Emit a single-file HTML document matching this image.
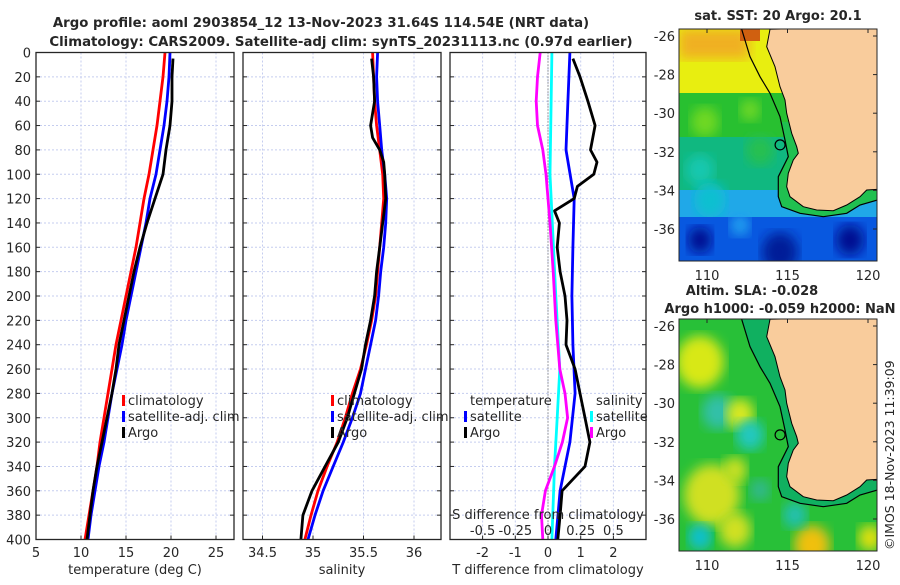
<!DOCTYPE html>
<html><head><meta charset="utf-8"><style>
body{margin:0;background:#fff}
svg text{font-family:"DejaVu Sans","Liberation Sans",sans-serif;fill:#262626}
</style></head><body>
<svg id="s" width="900" height="580" xmlns="http://www.w3.org/2000/svg">
<rect width="900" height="580" fill="#fff"/>
<defs>
<clipPath id="c1"><rect x="679" y="29" width="198" height="232"/></clipPath>
<clipPath id="c1b"><rect x="679" y="122" width="198" height="139"/></clipPath>
<clipPath id="c2"><rect x="679" y="319" width="198" height="232"/></clipPath>
<clipPath id="cp1"><rect x="36" y="52" width="198" height="488"/></clipPath>
<clipPath id="cp2"><rect x="243" y="52" width="198" height="488"/></clipPath>
<clipPath id="cp3"><rect x="450" y="52" width="196" height="488"/></clipPath>
<filter id="bl"><feGaussianBlur stdDeviation="6"/></filter>
</defs>
<text x="321" y="27" text-anchor="middle" font-size="13.3" font-weight="bold">Argo profile: aoml 2903854_12 13-Nov-2023 31.64S 114.54E (NRT data)</text>
<text x="341" y="46" text-anchor="middle" font-size="13.3" font-weight="bold">Climatology: CARS2009. Satellite-adj clim: synTS_20231113.nc (0.97d earlier)</text>
<g id="grid"></g>
<g id="marks"></g>
<g id="axes"></g>
<g id="maps"></g>
<text transform="translate(894,550) rotate(-90)" font-size="12.5">©IMOS 18-Nov-2023 11:39:09</text>
</svg>
<script>
// ---- data ----
const depthStd=[0,20,40,60,80,100,120,140,160,180,200,220,240,260,280,300,320,340,360,380,400];
const tempClim=[19.33,19.11,18.78,18.44,18.0,17.56,17.0,16.56,16.11,15.56,15.0,14.44,13.89,13.44,13.0,12.56,12.11,11.78,11.33,10.89,10.44];
const tempSat=[19.89,19.78,19.56,19.22,18.78,18.33,17.67,17.22,16.67,16.11,15.56,15.0,14.56,14.0,13.44,13.0,12.56,12.0,11.56,11.11,10.78];
const depthArgo=[5,20,40,60,80,100,120,140,160,180,200,220,240,260,280,300,320,340,360,380,400];
const tempArgo=[20.22,20.11,20.11,19.89,19.44,19.11,18.22,17.33,16.56,15.89,15.33,14.78,14.22,13.89,13.44,12.89,12.33,11.78,11.33,11.0,10.67];
const salClim=[35.59,35.60,35.61,35.63,35.66,35.69,35.70,35.68,35.66,35.64,35.62,35.58,35.53,35.47,35.39,35.32,35.24,35.14,35.05,34.98,34.92];
const salSat=[35.64,35.63,35.64,35.66,35.68,35.71,35.73,35.72,35.70,35.67,35.65,35.62,35.57,35.52,35.47,35.39,35.30,35.20,35.10,35.02,34.95];
const depthSalArgo=[5,20,40,60,70,80,90,100,120,140,160,180,200,220,240,260,280,300,320,340,360,380,400];
const salArgo=[35.58,35.60,35.61,35.57,35.59,35.66,35.70,35.71,35.72,35.69,35.66,35.63,35.61,35.57,35.52,35.48,35.41,35.34,35.25,35.12,34.99,34.90,34.88];
const depthTdSat=[0,40,80,120,160,200,240,280,320,360,400];
const tdSat=[0.67,0.61,0.55,0.80,0.76,0.73,0.76,0.83,0.67,0.37,0.24];
const depthTdArgo=[5,20,40,60,80,90,100,110,120,130,140,160,180,200,220,240,260,280,300,320,340,360,380,400];
const tdArgo=[0.76,0.98,1.22,1.44,1.3,1.5,1.4,0.9,0.8,0.2,0.35,0.28,0.37,0.52,0.58,0.55,0.83,0.98,1.13,1.28,1.13,0.43,0.37,0.3];
const depthSdSat=[0,100,200,260,300,340,400];
const sdSat=[0.03,0.015,0.06,0.09,0.07,0.05,0.03];
const depthSdArgo=[0,20,40,60,80,100,140,180,220,260,280,300,320,340,360,380,400];
const sdArgo=[-0.06,-0.08,-0.09,-0.08,-0.04,-0.015,0.015,0.04,0.06,0.09,0.13,0.15,0.11,0.05,-0.02,-0.05,-0.04];
const depthTicks=[0,20,40,60,80,100,120,140,160,180,200,220,240,260,280,300,320,340,360,380,400];
const tTicks=[5,10,15,20,25];
const sTicks=[34.5,35,35.5,36];
const tdTicks=[-2,-1,0,1,2];
const sdTicks=[-0.5,-0.25,0,0.25,0.5];
const sdTickLabels=["-0.5","-0.25","0","0.25","0.5"];
const lonTicks=[110,115,120];
const latTicks=[-26,-28,-30,-32,-34,-36];
const argoLon=114.54, argoLat=-31.64;

// ---- scales ----
const yD=d=>52.5+1.2175*d;
const xT=t=>36+9*(t-5);
const xS=s=>313+101*(s-35);
const xTd=t=>548+32.7*t;
const xSd=s=>548+130.8*s;
const NS='http://www.w3.org/2000/svg';
function mk(tag,attrs,parent){const e=document.createElementNS(NS,tag);for(const k in attrs)e.setAttribute(k,attrs[k]);parent.appendChild(e);return e;}
const G=document.getElementById('grid'),M=document.getElementById('marks'),A=document.getElementById('axes'),MP=document.getElementById('maps');
const panels=[{x0:36,x1:234,ticks:tTicks,f:xT,name:'temp'},{x0:243,x1:441,ticks:sTicks,f:xS,name:'sal'},{x0:450,x1:646,ticks:tdTicks,f:xTd,name:'tdiff'}];
panels.forEach(p=>{
  depthTicks.forEach(d=>{const l=mk('line',{x1:p.x0,x2:p.x1,y1:yD(d),y2:yD(d),stroke:'#c5cdef','stroke-width':1,'stroke-dasharray':'2,2'},G);
    
    const t1=mk('line',{x1:p.x0,x2:p.x0+4,y1:yD(d),y2:yD(d),stroke:'#262626'},A);
    const t2=mk('line',{x1:p.x1-4,x2:p.x1,y1:yD(d),y2:yD(d),stroke:'#262626'},A);});
  p.ticks.forEach((v,i)=>{const x=p.f(v);
    const l=mk('line',{x1:x,x2:x,y1:yD(0),y2:yD(400),stroke:'#c5cdef','stroke-dasharray':'2,2'},G);
    const tk=mk('line',{x1:x,x2:x,y1:yD(400),y2:yD(400)-4,stroke:'#262626'},A);
    const t=mk('text',{x:x,y:557,'text-anchor':'middle','font-size':13},A);t.textContent=String(v);});
  const r=mk('rect',{x:p.x0,y:yD(0),width:p.x1-p.x0,height:yD(400)-yD(0),fill:'none',stroke:'#262626','stroke-width':1.3},A);
  
});
depthTicks.forEach(d=>{const t=mk('text',{x:31,y:yD(d)+5,'text-anchor':'end','font-size':13},A);t.textContent=String(d);});
const zl=mk('line',{x1:xTd(0),x2:xTd(0),y1:yD(0),y2:yD(400),stroke:'#555','stroke-dasharray':'1,2'},G);
sdTicks.forEach((v,i)=>{const t=mk('text',{x:xSd(v),y:535,'text-anchor':'middle','font-size':13},A);t.textContent=sdTickLabels[i];});
const st=mk('text',{x:548,y:519,'text-anchor':'middle','font-size':13},A);st.textContent='S difference from climatology';
[['temperature (deg C)',135,'temp-axis-title'],['salinity',342,'sal-axis-title'],['T difference from climatology',548,'t-diff-axis-title']].forEach(a=>{const t=mk('text',{x:a[1],y:574,'text-anchor':'middle','font-size':13},A);t.textContent=a[0];});

function line(xs,ds,fx,col,clip,name){const pts=xs.map((v,i)=>fx(v).toFixed(1)+','+yD(ds[i]).toFixed(1)).join(' ');
  const e=mk('polyline',{points:pts,fill:'none',stroke:col,'stroke-width':2.8,'stroke-linejoin':'round','clip-path':'url(#'+clip+')'},M);
  }
line(tempClim,depthStd,xT,'#ff0000','cp1','temp-climatology-line');
line(tempSat,depthStd,xT,'#0000ff','cp1','temp-satellite-line');
line(tempArgo,depthArgo,xT,'#000','cp1','temp-argo-line');
line(salClim,depthStd,xS,'#ff0000','cp2','sal-climatology-line');
line(salSat,depthStd,xS,'#0000ff','cp2','sal-satellite-line');
line(salArgo,depthSalArgo,xS,'#000','cp2','sal-argo-line');
line(tdSat,depthTdSat,xTd,'#0000ff','cp3','tdiff-satellite-line');
line(tdArgo,depthTdArgo,xTd,'#000','cp3','tdiff-argo-line');
line(sdSat,depthSdSat,xSd,'#00ffff','cp3','sdiff-satellite-line');
line(sdArgo,depthSdArgo,xSd,'#ff00ff','cp3','sdiff-argo-line');

function leg(x,y,col,txt,name){if(col){const b=mk('rect',{x:x-6,y:y-10,width:3,height:11,fill:col},A);}
  const t=mk('text',{x:x,y:y,'font-size':13},A);t.textContent=txt;}
leg(128,405,'#ff0000','climatology','legend-temp-climatology');leg(128,421,'#0000ff','satellite-adj. clim','legend-temp-satellite');leg(128,437,'#000','Argo','legend-temp-argo');
leg(337,405,'#ff0000','climatology','legend-sal-climatology');leg(337,421,'#0000ff','satellite-adj. clim','legend-sal-satellite');leg(337,437,'#000','Argo','legend-sal-argo');
leg(470,405,null,'temperature','legend-tdiff-header');leg(470,421,'#0000ff','satellite','legend-tdiff-satellite');leg(470,437,'#000','Argo','legend-tdiff-argo');
leg(596,405,null,'salinity','legend-sdiff-header');leg(596,421,'#00ffff','satellite','legend-sdiff-satellite');leg(596,437,'#ff00ff','Argo','legend-sdiff-argo');

// ---- maps ----
const xLon=l=>707+16.1*(l-110);
const yLat=(l,off)=>36+off-19.3*(l+26);
const coast=[[330,88],[320,140],[345,200],[360,260],[375,300],[380,340],[395,400],[410,440],[415,460],[400,480],[385,520],[380,560],[390,590],[430,620],[470,630],[520,632],[560,615],[600,590],[620,570],[652,568],[660,568],[660,80]];
const contour=[[245,88],[270,170],[300,230],[330,280],[360,350],[375,420],[385,470],[370,500],[355,530],[355,590],[365,620],[420,640],[490,650],[560,640],[600,615],[652,600]];
const P=(arr,off)=>arr.map(p=>(660+p[0]/3).toFixed(1)+','+(p[1]/3+off).toFixed(1)).join(' ');
function map(off,clip,sst){
  const g=mk('g',{'clip-path':'url(#'+clip+')'},MP);
  const R=(x,y,w,h,c,f)=>{const r=mk('rect',{x:x,y:y+off,width:w,height:h,fill:c},g);if(f)r.setAttribute('filter','url(#bl)');};
  const C=(x,y,r,c)=>mk('ellipse',{cx:x,cy:y+off,rx:r,ry:r*1.1,fill:c,filter:'url(#bl)'},g);
  if(sst){
    R(679,29,198,65,'#e8ee10');R(679,29,70,30,'#f0b020',1);R(740,29,20,12,'#d06010');
    R(679,93,198,45,'#28c030');C(705,122,14,'#70d820');C(750,110,10,'#70d828');
    R(679,137,198,55,'#10b880');C(700,170,14,'#18c8b0');C(760,150,14,'#28c050');
    R(679,190,198,30,'#20a8e8');C(710,200,16,'#10c0d0');
    R(679,217,198,44,'#0858e0');C(700,240,12,'#000e90');C(780,252,18,'#001c98');C(850,240,14,'#000e90');C(740,225,10,'#20a0f0');
  } else {
    R(679,29,198,232,'#28c038');C(700,72,24,'#d8e818');C(718,122,16,'#30c0a8');C(740,124,14,'#d8e820');C(750,145,14,'#20c8c0');
    C(712,205,28,'#d0e020');C(735,240,16,'#d0e020');C(700,247,12,'#10c0d0');C(812,255,18,'#f0c010');C(795,225,12,'#20c0b0');C(870,248,12,'#e0e010');C(760,200,10,'#30b890');C(735,180,12,'#c8e020');
  }
  const shelf=mk('polygon',{points:P(contour,off)+' '+P(coast.slice(0,20).reverse(),off),fill:sst?'#20c050':'#10b060'},g);
  if(sst)shelf.setAttribute('clip-path','url(#c1b)');
  mk('polygon',{points:P(coast,off),fill:'#f9cc9c',stroke:'#000','stroke-width':1},g);
  mk('polyline',{points:P(contour,off),fill:'none',stroke:'#000','stroke-width':1.2},g);
  const mk1=mk('circle',{cx:xLon(argoLon),cy:yLat(argoLat,off),r:5,fill:'none',stroke:'#000','stroke-width':1.2},MP);
  
  const fr=mk('rect',{x:679,y:29+off,width:198,height:232,fill:'none',stroke:'#262626','stroke-width':1},MP);
  
  latTicks.forEach(l=>{const t=mk('text',{x:675,y:yLat(l,off)+5,'text-anchor':'end','font-size':13},MP);t.textContent=String(l);
    mk('line',{x1:873,x2:877,y1:yLat(l,off),y2:yLat(l,off),stroke:'#262626'},MP);});
  lonTicks.forEach(l=>{const t=mk('text',{x:xLon(l),y:280+off,'text-anchor':'middle','font-size':13},MP);t.textContent=String(l);
    mk('line',{x1:xLon(l),x2:xLon(l),y1:29+off,y2:33+off,stroke:'#262626'},MP);});
}
map(0,'c1',true);map(290,'c2',false);
[['sat. SST: 20 Argo: 20.1',778,20,'sst-map-title'],['Altim. SLA: -0.028',752,295,'sla-map-title'],['Argo h1000: -0.059 h2000: NaN',780,313,'sla-map-subtitle']].forEach(a=>{
  const t=mk('text',{x:a[1],y:a[2],'text-anchor':'middle','font-size':13,'font-weight':'bold'},MP);t.textContent=a[0];});
</script>
</body></html>
